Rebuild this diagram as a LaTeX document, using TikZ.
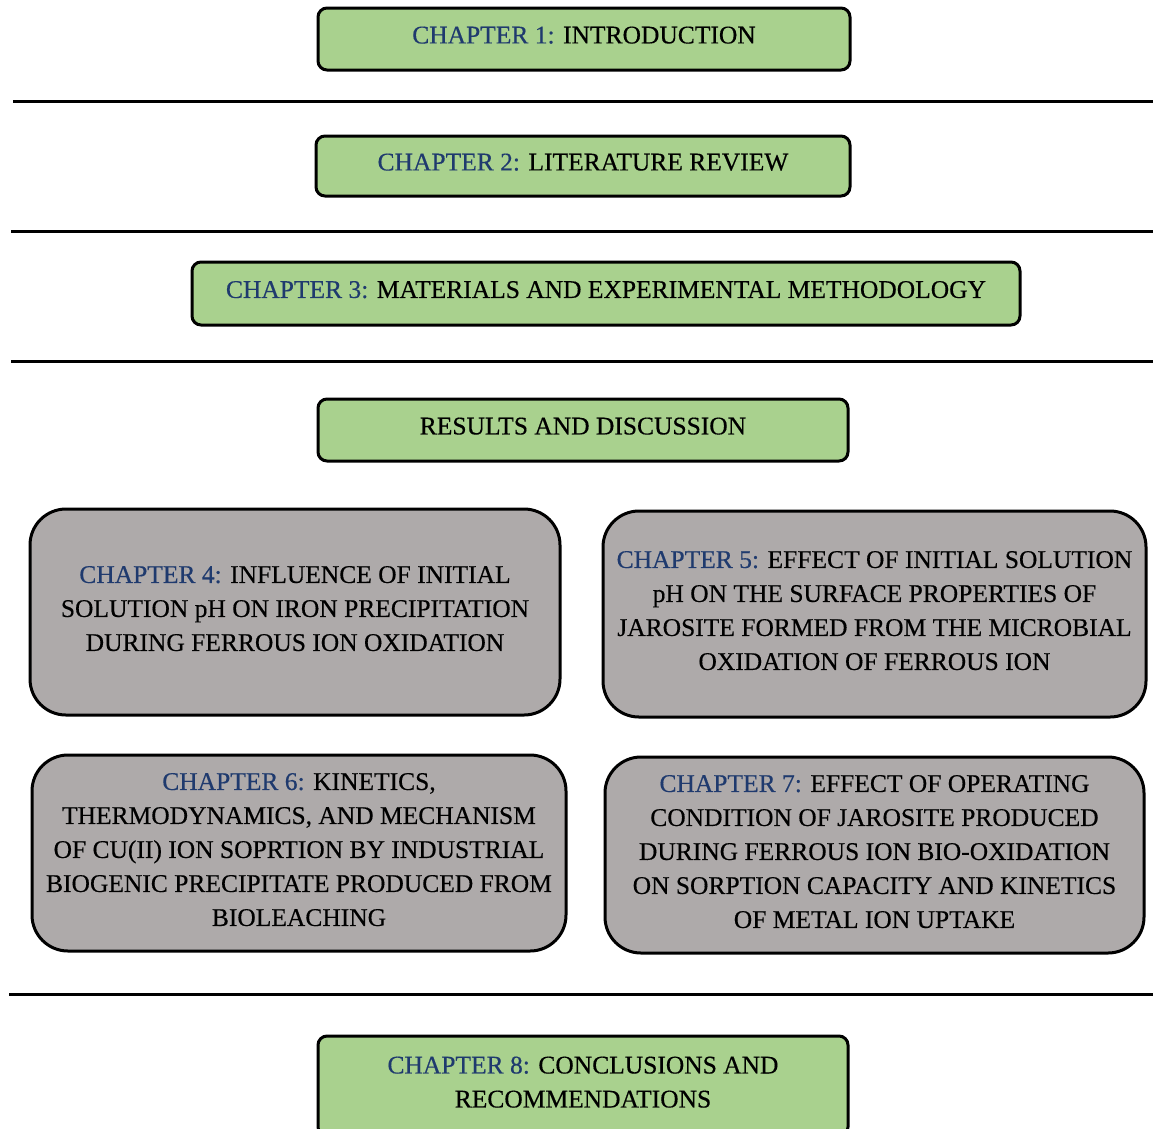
\documentclass[tikz,border=0pt]{standalone}
\usepackage{fontspec}
\setmainfont{Liberation Serif}[FakeBold=0.4]
\definecolor{boxgreen}{HTML}{A9D18E}
\definecolor{boxgray}{HTML}{AEAAAA}
\definecolor{chapblue}{HTML}{1F3A6E}
\newcommand{\chap}[1]{\textcolor{chapblue}{CHAPTER #1:}}
\tikzset{
  greenbox/.style={draw=black, line width=3pt, fill=boxgreen, rounded corners=9pt, align=center, inner sep=0pt, text depth=8pt},
  graybox/.style={draw=black, line width=3pt, fill=boxgray, rounded corners=36pt, align=center, inner sep=0pt, text depth=7pt},
  sep/.style={draw=black, line width=3pt},
  every node/.style={font=\fontsize{25.5}{34}\selectfont}
}
\begin{document}
\begin{tikzpicture}[x=1pt,y=-1pt]
\useasboundingbox (0,0) rectangle (1153,1128);
\node[greenbox, minimum width=532pt, minimum height=62pt] (c1) at (584,39) {\chap{1} INTRODUCTION};
\draw[sep] (13,101) -- (1153,101);
\node[greenbox, minimum width=534pt, minimum height=60pt] (c2) at (583,166) {\chap{2} LITERATURE REVIEW};
\draw[sep] (11,231) -- (1153,231);
\node[greenbox, minimum width=828pt, minimum height=63pt] (c3) at (606,293.5) {\chap{3} MATERIALS AND EXPERIMENTAL METHODOLOGY};
\draw[sep] (11,361) -- (1153,361);
\node[greenbox, minimum width=530pt, minimum height=62pt] (rd) at (583,430) {RESULTS AND DISCUSSION};
\node[graybox, minimum width=530pt, minimum height=206pt] (c4) at (295,612) {\chap{4} INFLUENCE OF INITIAL\\SOLUTION pH ON IRON PRECIPITATION\\DURING FERROUS ION OXIDATION};
\node[graybox, minimum width=543pt, minimum height=206pt] (c5) at (874.5,614) {\chap{5} EFFECT OF INITIAL SOLUTION\\pH ON THE SURFACE PROPERTIES OF\\JAROSITE FORMED FROM THE MICROBIAL\\OXIDATION OF FERROUS ION};
\node[graybox, minimum width=534pt, minimum height=196pt] (c6) at (299,853) {\chap{6} KINETICS,\\THERMODYNAMICS, AND MECHANISM\\OF CU(II) ION SOPRTION BY INDUSTRIAL\\BIOGENIC PRECIPITATE PRODUCED FROM\\BIOLEACHING};
\node[graybox, minimum width=539pt, minimum height=196pt] (c7) at (874.5,855) {\chap{7} EFFECT OF OPERATING\\CONDITION OF JAROSITE PRODUCED\\DURING FERROUS ION BIO-OXIDATION\\ON SORPTION CAPACITY AND KINETICS\\OF METAL ION UPTAKE};
\draw[sep] (9,994) -- (1153,994);
\node[greenbox, minimum width=530pt, minimum height=100pt] (c8) at (583,1086) {\chap{8} CONCLUSIONS AND\\RECOMMENDATIONS};
\end{tikzpicture}
\end{document}
